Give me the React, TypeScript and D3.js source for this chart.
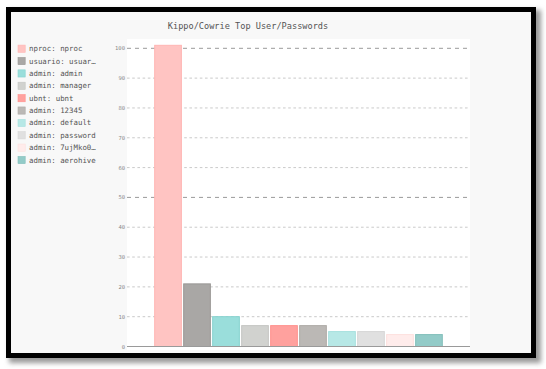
import { FC, useMemo } from "react";
import * as d3 from "d3";

const WIDTH = 546;
const HEIGHT = 369;
const PLOT = { left: 127, right: 470, top: 39, bottom: 350 };
const FONT = "'DejaVu Sans Mono', monospace";

// logins seen by the honeypot
const labels = [
  "nproc: nproc",
  "usuario: usuar…",
  "admin: admin",
  "admin: manager",
  "ubnt: ubnt",
  "admin: 12345",
  "admin: default",
  "admin: password",
  "admin: 7ujMko0…",
  "admin: aerohive",
];
const counts = [101, 21, 10, 7, 7, 7, 5, 5, 4, 4];
const fills = [
  "#ffc4c2", "#a9a7a5", "#9adedb", "#d1d2cf", "#ffa19e",
  "#bbb8b5", "#b7e8e6", "#e0e0e0", "#ffeceb", "#93cbc8",
];
const strokes = [
  "#ffb5b2", "#999794", "#86d3cf", "#c4c5c2", "#ff918d",
  "#aeaaa6", "#a6e0de", "#d6d6d6", "#fde0de", "#83bfbb",
];
const yTicks = [0, 10, 20, 30, 40, 50, 60, 70, 80, 90, 100];

const App: FC = () => {
  const xScale = useMemo(
    () =>
      d3
        .scaleBand()
        .domain(labels)
        .range([PLOT.left, PLOT.right])
        .paddingInner(0.08)
        .paddingOuter(0.955),
    []
  );
  const yScale = useMemo(
    () => d3.scaleLinear().domain([0, 100]).range([346.5, 48.3]),
    []
  );

  const grid = yTicks.map((v) => {
    const y = yScale(v);
    const major = v % 50 === 0;
    return (
      <g key={v}>
        {v > 0 && (
          <line
            x1={PLOT.left}
            x2={PLOT.right}
            y1={y}
            y2={y}
            stroke={major ? "#9a9a9a" : "#c4c4c4"}
            strokeWidth={major ? 1 : 0.9}
            strokeDasharray={major ? "4,4" : "2.6,2.6"}
          />
        )}
        <text
          x={PLOT.left - 2}
          y={y}
          textAnchor="end"
          dominantBaseline="central"
          fontSize={5.5}
          fontFamily={FONT}
          fill="#8a8a8a"
        >
          {v}
        </text>
      </g>
    );
  });

  const bars = labels.map((d, i) => {
    const x = xScale(d);
    if (x === undefined) return null;
    const y = yScale(counts[i]);
    return (
      <rect
        key={d}
        x={x}
        y={y}
        width={xScale.bandwidth()}
        height={yScale(0) - y}
        fill={fills[i]}
        stroke={strokes[i]}
        strokeWidth={1}
      />
    );
  });

  const legend = labels.map((d, i) => {
    const cy = 48.7 + i * 12.37;
    return (
      <g key={d}>
        <rect x={18} y={cy - 3.6} width={7.2} height={7.2} fill={fills[i]} stroke={strokes[i]} strokeWidth={0.6} />
        <text
          x={29}
          y={cy}
          dominantBaseline="central"
          fontSize={7.4}
          fontFamily={FONT}
          fill="#555"
        >
          {d}
        </text>
      </g>
    );
  });

  return (
    <svg
      width={WIDTH}
      height={HEIGHT}
      style={{ position: "absolute", left: 0, top: 0 }}
    >
      <defs>
        <filter id="shadow" x="-5%" y="-5%" width="110%" height="110%">
          <feGaussianBlur stdDeviation="2.5" />
        </filter>
      </defs>
      <rect width={WIDTH} height={HEIGHT} fill="#ffffff" />
      <rect x={9} y={10} width={532} height={353} fill="#9a9a9a" filter="url(#shadow)" />
      <rect x={6} y={7} width={530} height={351} fill="#000000" />
      <rect x={11} y={12} width={520} height={341} fill="#f8f8f8" />
      <rect
        x={PLOT.left}
        y={PLOT.top}
        width={PLOT.right - PLOT.left}
        height={PLOT.bottom - PLOT.top}
        fill="#ffffff"
      />
      <text
        x={248}
        y={26}
        textAnchor="middle"
        dominantBaseline="central"
        fontSize={8.6}
        fontFamily={FONT}
        fill="#555"
      >
        Kippo/Cowrie Top User/Passwords
      </text>
      {grid}
      {bars}
      <line
        x1={PLOT.left}
        x2={PLOT.right}
        y1={yScale(0)}
        y2={yScale(0)}
        stroke="#9a9a9a"
        strokeWidth={1}
      />
      {legend}
    </svg>
  );
};

export default App;
